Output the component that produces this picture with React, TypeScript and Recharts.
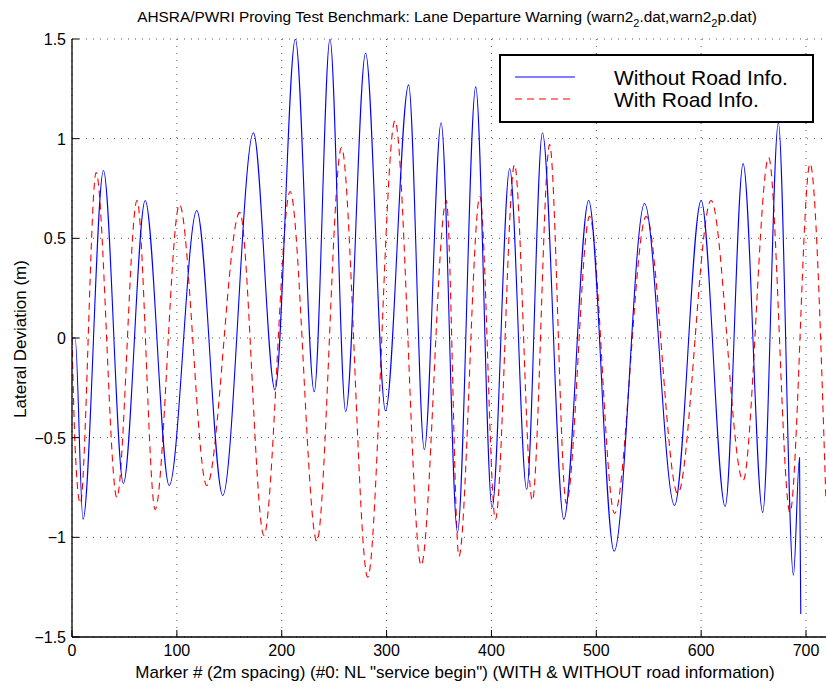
import React from 'react';
import { LineChart, Line, XAxis, YAxis, CartesianGrid, Legend } from 'recharts';

// lateral deviation (m) vs marker # at the turning points
const withoutRoadX = [0, 3, 10.5, 30, 49, 69.8, 92.7, 119, 143.8, 173, 193.6, 213, 231, 246, 261, 280, 299, 321, 336, 352, 367.6, 385, 400.6, 417.4, 433.6, 448.6, 469, 492.7, 517, 546, 574.6, 600, 622.9, 640, 658.7, 673.6, 688, 693.8, 695];
const withoutRoadY = [0, 0, -0.91, 0.84, -0.73, 0.69, -0.74, 0.64, -0.79, 1.03, -0.26, 1.5, -0.27, 1.5, -0.37, 1.43, -0.365, 1.27, -0.56, 1.08, -0.975, 1.26, -0.85, 0.85, -0.76, 1.03, -0.91, 0.69, -1.07, 0.675, -0.84, 0.69, -0.845, 0.875, -0.875, 1.08, -1.19, -0.6, -1.385];

const withRoadX = [0, 3, 7.9, 23, 42.8, 62, 79.3, 102.5, 128.5, 160, 183, 208, 233.5, 257, 282, 308, 333, 357, 369, 389, 403.8, 422, 439, 455.5, 471.4, 493.6, 517.4, 547.6, 577.7, 609.5, 640, 664.4, 684.7, 703.8, 719];
const withRoadY = [0, -0.55, -0.83, 0.83, -0.8, 0.69, -0.86, 0.67, -0.74, 0.63, -0.99, 0.735, -1.02, 0.955, -1.2, 1.09, -1.14, 0.69, -1.095, 0.71, -0.91, 0.87, -0.815, 0.97, -0.83, 0.61, -0.88, 0.61, -0.78, 0.69, -0.715, 0.905, -0.875, 0.875, -0.82];

const xTicks = [0, 100, 200, 300, 400, 500, 600, 700];
const yTicks = [-1.5, -1, -0.5, 0, 0.5, 1, 1.5];
const yTickLabels = ['\u22121.5', '\u22121', '\u22120.5', '0', '0.5', '1', '1.5'];

const withoutRoad = withoutRoadX.map((x, i) => ({ x, y: withoutRoadY[i] }));
const withRoad = withRoadX.map((x, i) => ({ x, y: withRoadY[i] }));

const FONT = '"Liberation Sans", Arial, Helvetica, sans-serif';
const TICK_LEN = 7;

const BottomTick = (props: any) => {
  const { x, y, payload } = props;
  return (
    <g>
      <line x1={x} y1={y} x2={x} y2={y - TICK_LEN} stroke="#000" strokeWidth={1} />
      <text x={x} y={y + 19} textAnchor="middle" fontSize={16} fontFamily={FONT} fill="#000">
        {payload.value}
      </text>
    </g>
  );
};

const TopTick = (props: any) => {
  const { x, y } = props;
  return <line x1={x} y1={y} x2={x} y2={y + TICK_LEN} stroke="#000" strokeWidth={1} />;
};

const LeftTick = (props: any) => {
  const { x, y, payload } = props;
  const idx = yTicks.indexOf(payload.value);
  return (
    <g>
      <line x1={x} y1={y} x2={x + TICK_LEN} y2={y} stroke="#000" strokeWidth={1} />
      <text x={x - 6} y={y + 6} textAnchor="end" fontSize={16} fontFamily={FONT} fill="#000">
        {yTickLabels[idx]}
      </text>
    </g>
  );
};

const LegendBox = () => (
  <svg width={315} height={69} style={{ display: 'block' }}>
    <rect x={1} y={1} width={313} height={67} fill="#fff" stroke="#000" strokeWidth={2} />
    <line x1={16} y1={23} x2={76} y2={23} stroke="#0000ff" strokeWidth={1.2} />
    <line x1={16} y1={45} x2={76} y2={45} stroke="#ff0000" strokeWidth={1.2} strokeDasharray="7 5" />
    <text x={115} y={31} fontSize={21} fontFamily={FONT} fill="#000">Without Road Info.</text>
    <text x={115} y={53} fontSize={21} fontFamily={FONT} fill="#000">With Road Info.</text>
  </svg>
);

export default function App() {
  return (
    <div style={{ position: 'absolute', left: 0, top: 0, width: 826, height: 688, overflow: 'hidden', background: '#fff' }}>
      <LineChart width={840} height={688} margin={{ top: 39, right: 13, bottom: 21, left: 12 }}>
        <CartesianGrid stroke="#555" strokeDasharray="1 6" strokeWidth={1} />
        <XAxis
          dataKey="x"
          type="number"
          domain={[0, 720]}
          ticks={xTicks}
          allowDataOverflow
          height={30}
          tickSize={0}
          tickMargin={0}
          tick={<BottomTick />}
          tickLine={false}
          axisLine={{ stroke: '#000', strokeWidth: 1.3 }}
        />
        <XAxis
          xAxisId="top"
          orientation="top"
          type="number"
          domain={[0, 720]}
          ticks={xTicks}
          height={0}
          tickSize={0}
          tickMargin={0}
          tick={<TopTick />}
          tickLine={false}
          axisLine={{ stroke: '#000', strokeWidth: 1 }}
        />
        <YAxis
          type="number"
          domain={[-1.5, 1.5]}
          ticks={yTicks}
          allowDataOverflow
          width={60}
          tickSize={0}
          tickMargin={0}
          tick={<LeftTick />}
          tickLine={false}
          axisLine={{ stroke: '#000', strokeWidth: 1.3 }}
        />
        <Legend
          layout="horizontal"
          verticalAlign="middle"
          align="center"
          content={() => <LegendBox />}
          wrapperStyle={{ left: 499, top: 54, width: 315, height: 69 }}
        />
        <Line
          data={withRoad}
          dataKey="y"
          type="monotone"
          stroke="#ff0000"
          strokeWidth={1.1}
          strokeDasharray="7 5"
          dot={false}
          isAnimationActive={false}
        />
        <Line
          data={withoutRoad}
          dataKey="y"
          type="monotone"
          stroke="#0000ff"
          strokeWidth={1.1}
          dot={false}
          isAnimationActive={false}
        />
      </LineChart>
      <svg
        width={826}
        height={688}
        style={{ position: 'absolute', left: 0, top: 0, pointerEvents: 'none' }}
      >
        <text x={447} y={22} textAnchor="middle" fontSize={15.4} fontFamily={FONT} fill="#000">
          AHSRA/PWRI Proving Test Benchmark: Lane Departure Warning (warn2
          <tspan fontSize={11} dy={5}>2</tspan>
          <tspan dy={-5}>.dat,warn2</tspan>
          <tspan fontSize={11} dy={5}>2</tspan>
          <tspan dy={-5}>p.dat)</tspan>
        </text>
        <text x={455} y={678} textAnchor="middle" fontSize={17} fontFamily={FONT} fill="#000">
          Marker # (2m spacing) (#0: NL "service begin") (WITH &amp; WITHOUT road information)
        </text>
        <text
          x={0}
          y={0}
          transform="translate(26 339) rotate(-90)"
          textAnchor="middle"
          fontSize={17}
          fontFamily={FONT}
          fill="#000"
        >
          Lateral Deviation (m)
        </text>
      </svg>
    </div>
  );
}
